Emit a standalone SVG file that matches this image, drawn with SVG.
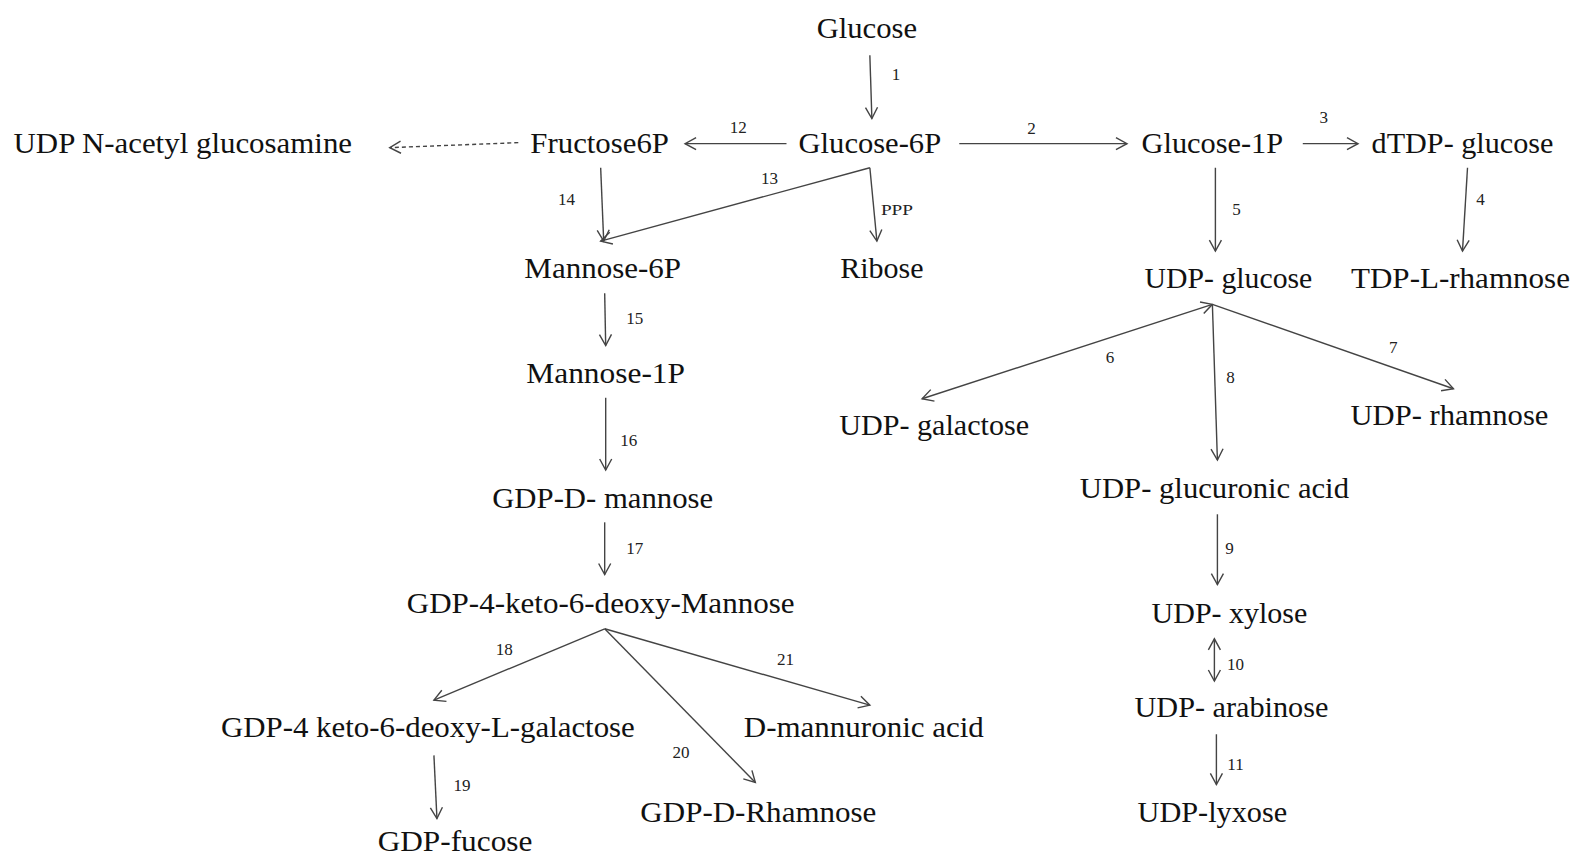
<svg xmlns="http://www.w3.org/2000/svg" width="1575" height="857" viewBox="0 0 1575 857">
<style>
.n{font-family:"Liberation Serif","Times New Roman",serif;font-size:30px;fill:#111;text-anchor:middle}
.l{font-family:"Liberation Serif","Times New Roman",serif;font-size:17px;fill:#222;text-anchor:middle}
.c{stroke:#444;stroke-width:1.4;fill:none;marker-end:url(#ah)}
.d{marker-start:url(#ah)}
.dash{stroke-dasharray:4 3}
</style>
<defs>
<marker id="ah" markerUnits="userSpaceOnUse" markerWidth="16" markerHeight="16" refX="12" refY="7" orient="auto-start-reverse" viewBox="0 0 16 14">
<path d="M1,1 L12,7 L1,13" fill="none" stroke="#444" stroke-width="1.4"/>
</marker>
</defs>
<rect width="1575" height="857" fill="#fff"/>
<g transform="scale(1.00446)">
<g id="connectors">
<line class="c" x1="866" y1="55" x2="868" y2="118"/>
<line class="c" x1="783" y1="143" x2="682" y2="143"/>
<line class="c" x1="955" y1="143" x2="1122" y2="143"/>
<line class="c" x1="1297" y1="143" x2="1352" y2="143"/>
<line class="c dash" x1="516" y1="142" x2="388" y2="147"/>
<line class="c" x1="598" y1="167" x2="601" y2="240"/>
<line class="c" x1="866" y1="167" x2="598" y2="240"/>
<line class="c" x1="866" y1="167" x2="873" y2="240"/>
<line class="c" x1="1210" y1="167" x2="1210" y2="250"/>
<line class="c" x1="1461" y1="167" x2="1456" y2="250"/>
<line class="c" x1="602" y1="292" x2="603" y2="344"/>
<line class="c" x1="603" y1="396" x2="603" y2="468"/>
<line class="c" x1="602" y1="520" x2="602" y2="572"/>
<line class="c d" x1="918" y1="397" x2="1207" y2="303"/>
<line class="c" x1="1207" y1="303" x2="1212" y2="458"/>
<line class="c" x1="1207" y1="303" x2="1447" y2="387"/>
<line class="c" x1="1212" y1="512" x2="1212" y2="582"/>
<line class="c d" x1="1209" y1="636" x2="1209" y2="678"/>
<line class="c" x1="1211" y1="731" x2="1211" y2="781"/>
<line class="c" x1="602" y1="626" x2="432" y2="697"/>
<line class="c" x1="602" y1="626" x2="752" y2="779"/>
<line class="c" x1="602" y1="626" x2="866" y2="702"/>
<line class="c" x1="432" y1="752" x2="435" y2="815"/>
<text class="l" x="892" y="80">1</text>
<text class="l" x="735" y="132">12</text>
<text class="l" x="1027" y="133">2</text>
<text class="l" x="1318" y="122">3</text>
<text class="l" x="564" y="204">14</text>
<text class="l" x="766" y="183">13</text>
<text class="l" x="893" y="214" style="font-size:15px" textLength="32" lengthAdjust="spacingAndGlyphs">PPP</text>
<text class="l" x="1231" y="214">5</text>
<text class="l" x="1474" y="204">4</text>
<text class="l" x="632" y="323">15</text>
<text class="l" x="626" y="444">16</text>
<text class="l" x="632" y="552">17</text>
<text class="l" x="1105" y="361">6</text>
<text class="l" x="1225" y="381">8</text>
<text class="l" x="1387" y="351">7</text>
<text class="l" x="1224" y="552">9</text>
<text class="l" x="1230" y="667">10</text>
<text class="l" x="1230" y="767">11</text>
<text class="l" x="502" y="652">18</text>
<text class="l" x="678" y="755">20</text>
<text class="l" x="782" y="662">21</text>
<text class="l" x="460" y="787">19</text>
</g>
<g id="glucose"><text class="n" x="863" y="38" textLength="100" lengthAdjust="spacingAndGlyphs">Glucose</text></g>
<g id="glucose6p"><text class="n" x="866" y="152" textLength="142" lengthAdjust="spacingAndGlyphs">Glucose-6P</text></g>
<g id="fructose6p"><text class="n" x="597" y="152" textLength="138" lengthAdjust="spacingAndGlyphs">Fructose6P</text></g>
<g id="udpnag"><text class="n" x="182" y="152" textLength="337" lengthAdjust="spacingAndGlyphs">UDP N-acetyl glucosamine</text></g>
<g id="glucose1p"><text class="n" x="1207" y="152" textLength="141" lengthAdjust="spacingAndGlyphs">Glucose-1P</text></g>
<g id="dtdpglucose"><text class="n" x="1456" y="152" textLength="181" lengthAdjust="spacingAndGlyphs">dTDP- glucose</text></g>
<g id="mannose6p"><text class="n" x="600" y="277" textLength="156" lengthAdjust="spacingAndGlyphs">Mannose-6P</text></g>
<g id="ribose"><text class="n" x="878" y="277" textLength="83" lengthAdjust="spacingAndGlyphs">Ribose</text></g>
<g id="udpglucose"><text class="n" x="1223" y="287" textLength="167" lengthAdjust="spacingAndGlyphs">UDP- glucose</text></g>
<g id="tdplrhamnose"><text class="n" x="1454" y="287" textLength="218" lengthAdjust="spacingAndGlyphs">TDP-L-rhamnose</text></g>
<g id="mannose1p"><text class="n" x="603" y="381" textLength="158" lengthAdjust="spacingAndGlyphs">Mannose-1P</text></g>
<g id="udpgalactose"><text class="n" x="930" y="433" textLength="189" lengthAdjust="spacingAndGlyphs">UDP- galactose</text></g>
<g id="udprhamnose"><text class="n" x="1443" y="423" textLength="197" lengthAdjust="spacingAndGlyphs">UDP- rhamnose</text></g>
<g id="udpglucuronic"><text class="n" x="1209" y="496" textLength="268" lengthAdjust="spacingAndGlyphs">UDP- glucuronic  acid</text></g>
<g id="gdpdmannose"><text class="n" x="600" y="506" textLength="220" lengthAdjust="spacingAndGlyphs">GDP-D- mannose</text></g>
<g id="udpxylose"><text class="n" x="1224" y="620" textLength="155" lengthAdjust="spacingAndGlyphs">UDP- xylose</text></g>
<g id="gdpketomannose"><text class="n" x="598" y="610" textLength="386" lengthAdjust="spacingAndGlyphs">GDP-4-keto-6-deoxy-Mannose</text></g>
<g id="udparabinose"><text class="n" x="1226" y="714" textLength="193" lengthAdjust="spacingAndGlyphs">UDP- arabinose</text></g>
<g id="gdpketogalactose"><text class="n" x="426" y="734" textLength="412" lengthAdjust="spacingAndGlyphs">GDP-4 keto-6-deoxy-L-galactose</text></g>
<g id="dmannuronic"><text class="n" x="860" y="734" textLength="239" lengthAdjust="spacingAndGlyphs">D-mannuronic acid</text></g>
<g id="gdpdrhamnose"><text class="n" x="755" y="818" textLength="235" lengthAdjust="spacingAndGlyphs">GDP-D-Rhamnose</text></g>
<g id="udplyxose"><text class="n" x="1207" y="818" textLength="149" lengthAdjust="spacingAndGlyphs">UDP-lyxose</text></g>
<g id="gdpfucose"><text class="n" x="453" y="847" textLength="154" lengthAdjust="spacingAndGlyphs">GDP-fucose</text></g>
</g>
</svg>
